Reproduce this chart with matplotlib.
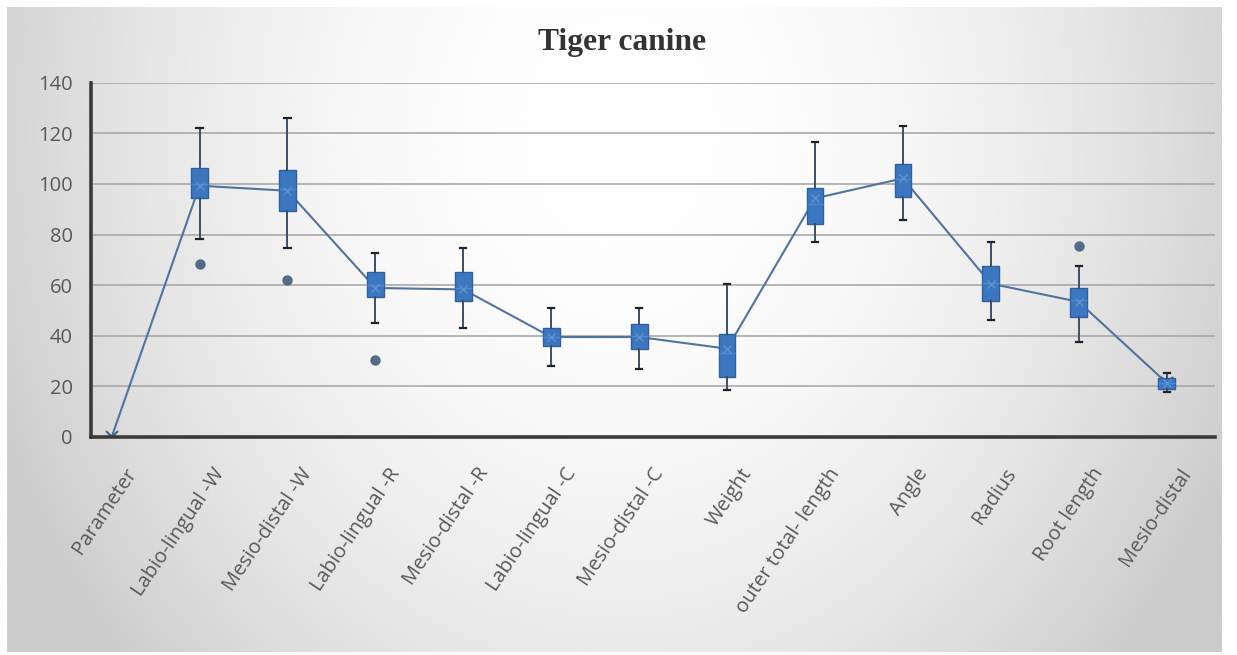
import numpy as np
import matplotlib
matplotlib.use("Agg")
import matplotlib.pyplot as plt
import matplotlib.transforms as mtransforms

# ---- data -------------------------------------------------------------
categories = ["Parameter", "Labio-lingual -W", "Mesio-distal -W", "Labio-lingual -R",
              "Mesio-distal -R", "Labio-lingual -C", "Mesio-distal -C", "Weight",
              "outer total- length", "Angle", "Radius", "Root length", "Mesio-distal"]

# box statistics for every measured parameter (categories[1:])
whisker_low = [78.4, 74.5, 45.2, 42.9, 28.0, 27.0, 18.5, 76.9, 85.7, 46.1, 37.6, 17.8]
quartile1 = [94.3, 89.4, 55.4, 53.8, 36.0, 34.7, 23.7, 84.0, 94.9, 53.8, 47.5, 19.1]
medians = [100.0, 98.0, 60.0, 59.0, 39.5, 40.0, 33.0, 92.0, 102.0, 61.0, 54.0, 21.5]
quartile3 = [106.4, 105.7, 65.2, 65.3, 43.1, 44.6, 40.6, 98.2, 107.7, 67.5, 58.7, 23.5]
whisker_high = [122.2, 126.1, 72.9, 74.5, 50.8, 50.8, 60.4, 116.4, 122.9, 76.9, 67.5, 25.3]
box_means = [99.3, 97.3, 58.9, 58.3, 39.5, 39.5, 34.9, 94.3, 102.2, 60.6, 53.4, 21.4]
outliers = [[68.3], [62.0], [30.3], [], [], [], [], [], [], [], [75.4], []]

# mean line, starting at the "Parameter" category
line_values = [0.0] + box_means

y_ticks = [0, 20, 40, 60, 80, 100, 120, 140]

# ---- figure -----------------------------------------------------------
W, H = 1237, 655
fig = plt.figure(figsize=(W / 100, H / 100), dpi=100)
fig.patch.set_facecolor("white")

# gradient panel behind the chart
px0, py0, px1, py1 = 7, 7, 1222, 652
bg = fig.add_axes([px0 / W, 1 - py1 / H, (px1 - px0) / W, (py1 - py0) / H], zorder=0)
gx = np.linspace(px0, px1, 400)
gy = np.linspace(py0, py1, 220)
GX, GY = np.meshgrid(gx, gy)
r2 = ((GX - 620) / 640) ** 2 + ((GY - 130) / 760) ** 2
shade = np.clip(1.0 - 0.18 * r2, 0.80, 1.0)
bg.imshow(shade, cmap="gray", vmin=0, vmax=1, aspect="auto",
          extent=[0, 1, 0, 1], interpolation="bicubic")
bg.set_axis_off()

# plotting area
ax_l, ax_r, ax_t, ax_b = 91, 1215, 82.7, 437
ax = fig.add_axes([ax_l / W, 1 - ax_b / H, (ax_r - ax_l) / W, (ax_b - ax_t) / H], zorder=1)
ax.patch.set_alpha(0)

x = np.arange(len(categories))
ax.set_xlim(-0.235, 12.55)
ax.set_ylim(0, 140)

# horizontal gridlines
for yv in y_ticks[1:]:
    ax.axhline(yv, color="#a3a3a3", lw=1.1, zorder=1)

# mean line
ax.plot(x, line_values, color="#52739f", lw=1.5, marker="x", markersize=8,
        markeredgewidth=1.5, markeredgecolor="#44608a", zorder=2)

stats = []
for i in range(len(box_means)):
    stats.append(dict(whislo=whisker_low[i], q1=quartile1[i], med=medians[i],
                      q3=quartile3[i], whishi=whisker_high[i], mean=box_means[i],
                      fliers=outliers[i]))

ax.bxp(stats, positions=x[1:], widths=0.19, patch_artist=True, showmeans=True,
       boxprops=dict(facecolor="#3b77c0", edgecolor="#2f5f9c", linewidth=1.0),
       medianprops=dict(color="#4f87cc", linewidth=1.0),
       meanprops=dict(marker="x", markeredgecolor="#5f92d2", markersize=6,
                      markeredgewidth=1.0),
       whiskerprops=dict(color="#3a4f6a", linewidth=1.4),
       capprops=dict(color="#222222", linewidth=1.6),
       capwidths=0.07,
       flierprops=dict(marker="o", markerfacecolor="#536b89", markeredgecolor="#536b89",
                       markersize=6.5),
       manage_ticks=False, zorder=3)

# axes styling
for side in ("top", "right"):
    ax.spines[side].set_visible(False)
for side in ("left", "bottom"):
    ax.spines[side].set_color("#3a3a3a")
    ax.spines[side].set_linewidth(2.6)
    ax.spines[side].set_zorder(4)

ax.set_yticks(y_ticks)
ax.set_yticklabels([str(v) for v in y_ticks])
ax.tick_params(axis="y", length=0, pad=13, labelsize=14.5, labelcolor="#595959")
ax.tick_params(axis="x", length=0)
for lab in ax.get_yticklabels():
    lab.set_fontfamily("Open Sans")

ax.set_xticks(x)
ax.set_xticklabels(categories, rotation=56, ha="right", va="center",
                   rotation_mode="anchor", fontsize=14.5, color="#595959",
                   fontfamily="Open Sans")
offset = mtransforms.ScaledTranslation(0.21, -0.28, fig.dpi_scale_trans)
for lab in ax.get_xticklabels():
    lab.set_transform(lab.get_transform() + offset)

fig.text(622 / W, 1 - 50 / H, "Tiger canine", ha="center", va="baseline",
         fontsize=22.7, fontweight="bold", fontfamily="Liberation Serif",
         color="#333333")

fig.savefig("out.png", dpi=100)
